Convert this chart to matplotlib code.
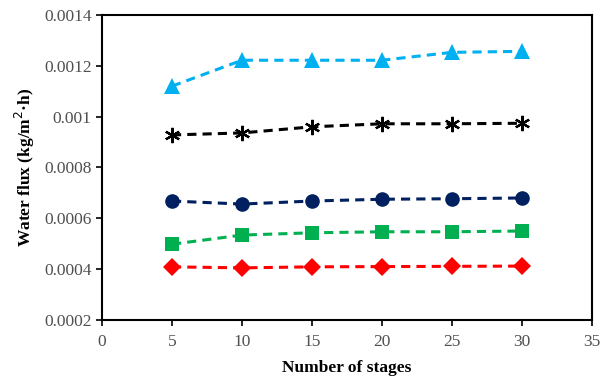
import matplotlib
matplotlib.use("Agg")
import matplotlib.pyplot as plt

stages = [5, 10, 15, 20, 25, 30]

flux_triangle = [0.00112, 0.001222, 0.001222, 0.001222, 0.001253, 0.001257]
flux_star = [0.000928, 0.000936, 0.00096, 0.000972, 0.000972, 0.000974]
flux_circle = [0.000668, 0.000656, 0.000668, 0.000675, 0.000677, 0.00068]
flux_square = [0.000498, 0.000534, 0.000543, 0.000547, 0.000547, 0.00055]
flux_diamond = [0.000409, 0.000405, 0.000409, 0.00041, 0.000411, 0.000412]

SERIES = [
    (flux_triangle, "#00B0F0", "^", 12, 0),
    (flux_star, "black", (6, 2, 0), 11, 1.6),
    (flux_circle, "#002060", "o", 10.5, 0),
    (flux_square, "#00B050", "s", 10.5, 0),
    (flux_diamond, "#FF0000", "D", 9, 0),
]

plt.rcParams["font.family"] = ["Liberation Serif", "DejaVu Serif"]

fig = plt.figure(figsize=(6.12, 3.8), dpi=100)
ax = fig.add_axes([0.1667, 0.158, 0.8003, 0.8025])

for values, color, marker, size, mew in SERIES:
    ax.plot(stages, values, color=color, linestyle=(0, (3, 2)), linewidth=2.2,
            marker=marker, markersize=size, markeredgewidth=mew,
            markeredgecolor=color, markerfacecolor=color)

ax.set_xlim(0, 35)
ax.set_ylim(0.0002, 0.0014)
ax.set_xticks(range(0, 36, 5))
y_ticks = [0.0002, 0.0004, 0.0006, 0.0008, 0.001, 0.0012, 0.0014]
ax.set_yticks(y_ticks)
ax.set_yticklabels(["0.0002", "0.0004", "0.0006", "0.0008", "0.001", "0.0012", "0.0014"])

for spine in ax.spines.values():
    spine.set_linewidth(1.5)
    spine.set_color("black")
ax.tick_params(direction="out", length=4, width=1.2, labelsize=12.5, colors="black",
               labelcolor="#505050")
ax.tick_params(axis="x", pad=6)

ax.set_xlabel("Number of stages", fontsize=12.5, fontweight="bold", labelpad=7)
ax.set_ylabel("Water flux (kg/m$^2$·h)", fontsize=12.5, fontweight="bold", labelpad=5)

fig.savefig("out.png", dpi=100)
